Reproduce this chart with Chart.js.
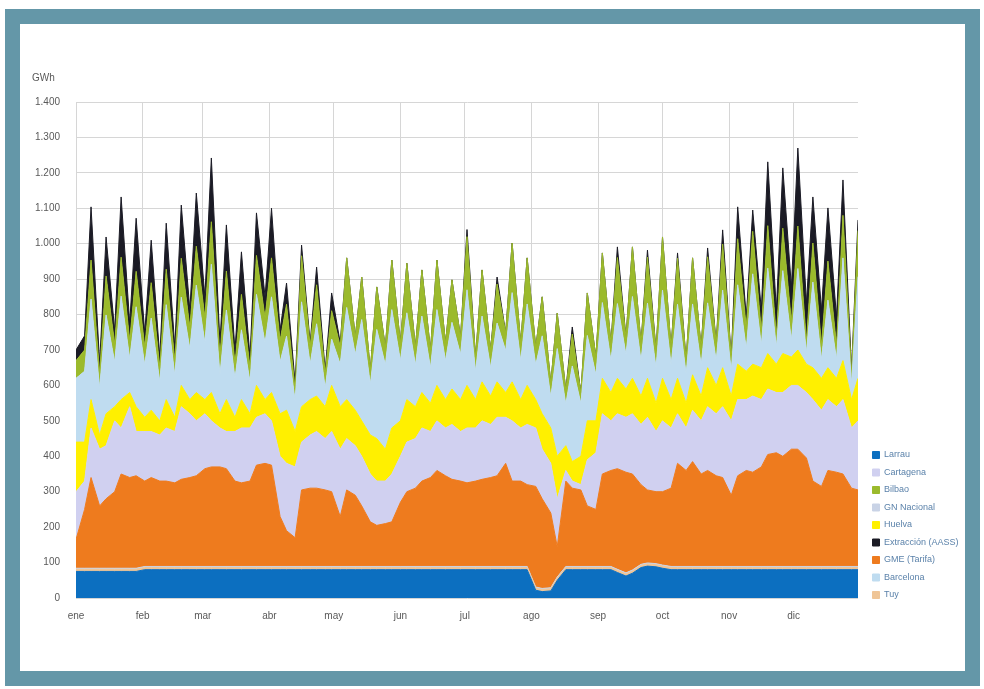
<!DOCTYPE html>
<html lang="es">
<head>
<meta charset="utf-8">
<title>Entradas diarias de gas</title>
<script src="https://cdn.jsdelivr.net/npm/chart.js@4/dist/chart.umd.min.js"></script>
<style>
  html, body { margin: 0; padding: 0; background: #fff; }
  #marco {
    position: absolute; left: 5px; top: 9px;
    width: 945px; height: 647px;
    border: 15px solid #6497a8; background: #fff;
  }
  #grafico { position: absolute; left: 0; top: 16px; }
</style>
</head>
<body>
<div id="marco"><canvas id="grafico" width="945" height="600"></canvas></div>
<script>
// dia del año (0 = 1 de enero); dos puntos por semana
const dias = [0,4,7,11,14,18,21,25,28,32,35,39,42,46,49,53,56,60,63,67,70,74,77,81,84,88,91,95,98,102,
  105,109,112,116,119,123,126,130,133,137,140,144,147,151,154,158,161,165,168,172,175,179,182,186,189,193,196,200,203,207,
  210,214,217,221,224,228,231,235,238,242,245,249,252,256,259,263,266,270,273,277,280,284,287,291,294,298,301,305,308,312,
  315,319,322,326,329,333,336,340,343,347,350,354,357,361,364];

const meses = ["ene","feb","mar","abr","may","jun","jul","ago","sep","oct","nov","dic"];
const inicioMes = [0,31,59,90,120,151,181,212,243,273,304,334];

// GWh/día por punto de entrada
const larrau = [75,75,75,75,75,75,75,75,75,80, 80,80,80,80,80,80,80,80,80,80, 80,80,80,80,80,80,80,80,80,80,
  80,80,80,80,80,80,80,80,80,80, 80,80,80,80,80,80,80,80,80,80, 80,80,80,80,80,80,80,80,80,80,
  80,22,18,20,50,80,80,80,80,80, 80,80,72,62,70,86,90,88,84,80, 80,80,80,80,80,80,80,80,80,80,
  80,80,80,80,80,80,80,80,80,80, 80,80,80,80,80];
const tuy = [6,6,6,6,6,6,6,6,6,6, 6,6,6,6,6,6,6,6,6,6, 6,6,6,6,6,6,6,6,6,6,
  6,6,6,6,6,6,6,6,6,6, 6,6,6,6,6,6,6,6,6,6, 6,6,6,6,6,6,6,6,6,6,
  6,6,6,6,6,6,6,6,6,6, 6,6,6,6,6,6,6,6,6,6, 6,6,6,6,6,6,6,6,6,6,
  6,6,6,6,6,6,6,6,6,6, 6,6,6,6,6];
const gnNacional = [3,3,3,3,3,3,3,3,3,3, 3,3,3,3,3,3,3,3,3,3, 3,3,3,3,3,3,3,3,3,3,
  3,3,3,3,3,3,3,3,3,3, 3,3,3,3,3,3,3,3,3,3, 3,3,3,3,3,3,3,3,3,3,
  3,3,3,3,3,3,3,3,3,3, 3,3,3,3,3,3,3,3,3,3, 3,3,3,3,3,3,3,3,3,3,
  3,3,3,3,3,3,3,3,3,3, 3,3,3,3,3];
const gmeTarifa = [81,166,256,176,196,216,266,256,261,241, 251,241,241,236,246,251,256,276,281,281,
  276,241,236,241,286,291,286,141,101,81, 216,221,221,216,211,141,216,201,171,126,
  116,121,126,181,211,221,241,251,271,256, 246,241,236,241,246,251,256,291,241,241,
  231,284,253,211,86,241,221,216,171,161, 261,271,284,284,271,225,206,203,207,221,
  291,271,296,261,271,256,251,201,256,271, 266,281,316,321,311,331,331,306,241,226,
  271,266,261,221,216];
const cartagena = [135,80,140,160,150,200,130,200,125,140, 130,130,150,145,205,180,155,155,130,110,
  105,140,155,150,135,140,125,170,190,200, 135,150,160,145,170,190,145,140,140,135,
  125,120,135,130,140,140,150,130,140,135, 155,140,155,150,165,150,165,130,170,150,
  170,165,140,140,135,30,20,15,130,160, 170,140,155,155,170,170,205,170,200,170,
  140,120,145,150,180,175,200,210,215,200, 215,190,185,170,180,180,180,185,230,215,
  200,185,210,170,195];
const huelva = [140,110,80,40,90,40,80,40,70,40, 60,40,80,40,60,40,80,40,80,40,
  90,40,80,40,90,40,80,120,150,100, 100,100,100,90,130,120,110,100,100,110,
  120,90,130,100,120,90,100,80,100,80, 100,90,120,80,110,80,100,70,110,80,
  110,80,100,100,120,70,55,80,110,90, 100,80,100,80,100,80,110,80,120,80,
  100,70,100,70,110,80,110,70,100,80, 90,90,100,80,110,80,100,80,90,90,
  90,80,110,80,120];
const barcelona = [180,200,284,133,279,126,292,96,282,148, 260,110,268,118,249,143,303,160,362,110,
  253,110,197,90,257,160,270,146,209,87, 296,100,204,53,131,120,260,157,286,143,
  308,238,334,170,245,118,216,100,214,110, 188,127,270,80,186,80,166,118,252,110,
  230,98,220,87,304,117,270,149,241,130, 214,90,211,97,231,100,212,100,249,98,
  209,82,200,88,183,70,219,70,224,63, 255,63,241,48,234,48,230,33,242,53,
  191,53,290,43,287];
const bilbao = [50,60,110,40,110,50,110,50,100,50, 100,40,100,40,110,60,110,70,120,50,
  110,40,100,40,110,70,110,60,90,30, 130,50,110,40,80,50,140,50,120,40,
  120,50,140,50,140,50,130,50,140,50, 120,50,150,40,130,50,110,50,140,50,
  130,50,110,40,100,40,90,30,120,50, 140,50,130,50,140,50,130,50,150,50,
  130,40,130,50,130,50,130,40,130,60, 120,40,120,30,120,50,120,30,110,40,
  110,40,120,30,130];
const extraccion = [30,40,150,30,110,40,170,50,150,40, 120,30,130,40,150,50,150,60,180,40,
  130,40,120,30,120,60,140,30,60,20, 30,10,50,10,50,10,0,0,0,0,
  0,0,0,0,0,0,0,0,0,0, 0,0,20,0,0,0,20,0,0,0,
  0,0,0,0,0,0,20,0,0,0, 0,0,30,0,0,0,20,0,0,0,
  15,0,0,0,25,0,40,0,90,30, 60,60,180,75,170,100,220,110,130,100,
  150,80,100,10,30];

// apilado de abajo arriba
const series = [
  ["Larrau", larrau, "#0c6fc0"],
  ["Tuy", tuy, "#efc597"],
  ["GN Nacional", gnNacional, "#c9d3e6"],
  ["GME (Tarifa)", gmeTarifa, "#ee7b1e"],
  ["Cartagena", cartagena, "#d0d0f0"],
  ["Huelva", huelva, "#fff000"],
  ["Barcelona", barcelona, "#bfdcf0"],
  ["Bilbao", bilbao, "#9bba2c"],
  ["Extracción (AASS)", extraccion, "#1b1b25"],
];
const ordenLeyenda = ["Larrau","Cartagena","Bilbao","GN Nacional","Huelva",
  "Extracción (AASS)","GME (Tarifa)","Barcelona","Tuy"];

const LEYENDA_ANCHO = 107;

// fija el ancho de la leyenda y la coloca junto al eje
const ajusteLeyenda = {
  id: "ajusteLeyenda",
  beforeLayout(chart) {
    const ley = chart.legend;
    if (!ley || ley._ajustada) return;
    const fit = ley.fit.bind(ley);
    ley.fit = function () { fit(); this.width = LEYENDA_ANCHO; };
    const draw = ley.draw.bind(ley);
    ley.draw = function () {
      this.ctx.save();
      this.ctx.translate(6, -32);
      draw();
      this.ctx.restore();
    };
    ley._ajustada = true;
  },
};

// unidad encima del eje vertical
const unidad = {
  id: "unidad",
  afterDraw(chart) {
    const { ctx, chartArea } = chart;
    ctx.save();
    ctx.font = "10px 'Liberation Sans', Arial, sans-serif";
    ctx.fillStyle = "#595959";
    ctx.textBaseline = "middle";
    ctx.fillText("GWh", chartArea.left - 44, chartArea.top - 24);
    ctx.restore();
  },
};

Chart.defaults.font.family = "'Liberation Sans', Arial, sans-serif";
Chart.defaults.font.size = 10;

const ctx = document.getElementById("grafico").getContext("2d");
new Chart(ctx, {
  type: "line",
  data: {
    datasets: series.map(([nombre, valores, color], i) => ({
      label: nombre,
      data: dias.map((d, k) => ({ x: d, y: valores[k] })),
      backgroundColor: color,
      borderColor: color,
      borderWidth: 1,
      pointRadius: 0,
      tension: 0,
      fill: i === 0 ? "origin" : "-1",
    })),
  },
  options: {
    responsive: false,
    animation: false,
    events: [],
    layout: { padding: { top: 62, left: 0, right: 0, bottom: 0 } },
    plugins: {
      tooltip: { enabled: false },
      legend: {
        position: "right",
        align: "end",
        labels: {
          boxWidth: 7,
          boxHeight: 7,
          padding: 8.5,
          color: "#5b82aa",
          font: { size: 9 },
          sort: (a, b) => ordenLeyenda.indexOf(a.text) - ordenLeyenda.indexOf(b.text),
        },
      },
    },
    scales: {
      x: {
        type: "linear",
        min: 0,
        max: 364,
        afterBuildTicks: (scale) => { scale.ticks = inicioMes.map((v) => ({ value: v })); },
        afterFit: (scale) => { scale.height = 42; },
        ticks: {
          autoSkip: false,
          maxRotation: 0,
          padding: 12,
          color: "#595959",
          callback: (v, i) => meses[i],
        },
        grid: { color: "#d6d6d6", drawTicks: false },
        border: { display: false },
      },
      y: {
        stacked: true,
        min: 0,
        max: 1400,
        afterFit: (scale) => { scale.width = 56; },
        ticks: {
          stepSize: 100,
          padding: 16,
          color: "#595959",
          callback: (v) => String(v).replace(/\B(?=(\d{3})+$)/g, "."),
        },
        grid: { color: "#d6d6d6", drawTicks: false },
        border: { color: "#d6d6d6" },
      },
    },
  },
  plugins: [ajusteLeyenda, unidad],
});
</script>
</body>
</html>
